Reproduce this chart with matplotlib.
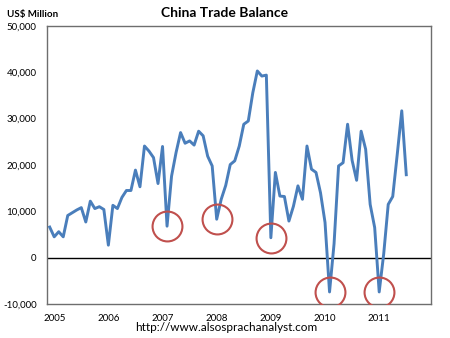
import numpy as np
import matplotlib.pyplot as plt

# monthly trade balance, Jan 2005 .. Aug 2011 (US$ million)
balance = [
    6600, 4500, 5600, 4500, 9100, 9700, 10300, 10800, 7700, 12200, 10600, 11000,      # 2005
    10400, 2700, 11300, 10600, 13000, 14500, 14500, 18900, 15300, 24100, 23000, 21600,  # 2006
    16000, 24000, 6800, 17600, 22700, 27000, 24700, 25200, 24300, 27300, 26300, 21900,  # 2007
    19800, 8300, 12600, 15600, 20100, 20900, 24100, 28800, 29500, 35600, 40300, 39200,  # 2008
    39400, 4300, 18400, 13300, 13200, 7900, 11100, 15500, 12600, 24100, 19100, 18400,   # 2009
    14000, 7600, -7400, 3000, 19800, 20500, 28800, 21000, 16700, 27300, 23400, 11500,   # 2010
    6500, -7400, 800, 11500, 13200, 22300, 31700, 17900,                                # 2011
]
years = ["2005", "2006", "2007", "2008", "2009", "2010", "2011"]
circled = [26, 37, 49, 62, 73]  # months with the red circles
yticks = [-10000, 0, 10000, 20000, 30000, 40000, 50000]

FONT = "Lato"
plt.rcParams["font.family"] = [FONT, "DejaVu Sans"]

fig = plt.figure(figsize=(4.5, 3.38), dpi=100)
ax = fig.add_axes([0.1044, 0.1006, 0.8536, 0.8224])

x = np.arange(len(balance))
ax.plot(x, balance, color="#4A7EBB", lw=2.1, solid_joinstyle="round", zorder=3)
ax.axhline(0, color="black", lw=1.0, zorder=2)

vals = [balance[i] for i in circled]
ax.plot(circled, vals, "o", ms=21.5, mfc="none", mec="#C0504D", mew=1.5, zorder=4)

ax.set_xlim(-0.6, 84.5)
ax.set_ylim(-10000, 50000)
ax.set_yticks(yticks)
ax.set_yticklabels([f"{v:,}" for v in yticks], fontsize=7)
ax.set_xticks([12 * i + 1 for i in range(len(years))])
ax.set_xticklabels(years, fontsize=7)
ax.tick_params(length=0)
ax.tick_params(axis="y", pad=7.5)
ax.tick_params(axis="x", pad=7)

for s in ax.spines.values():
    s.set_color("#6E6E6E")
    s.set_linewidth(1.0)

fig.text(0.498, 0.963, "China Trade Balance", ha="center", va="center",
         fontsize=10, fontweight="bold")
fig.text(0.016, 0.957, "US$ Million", ha="left", va="center",
         fontsize=7, fontweight="bold")
fig.text(0.502, 0.032, "http://www.alsosprachanalyst.com", ha="center",
         va="center", fontsize=8.5)

fig.savefig("out.png", dpi=100)
